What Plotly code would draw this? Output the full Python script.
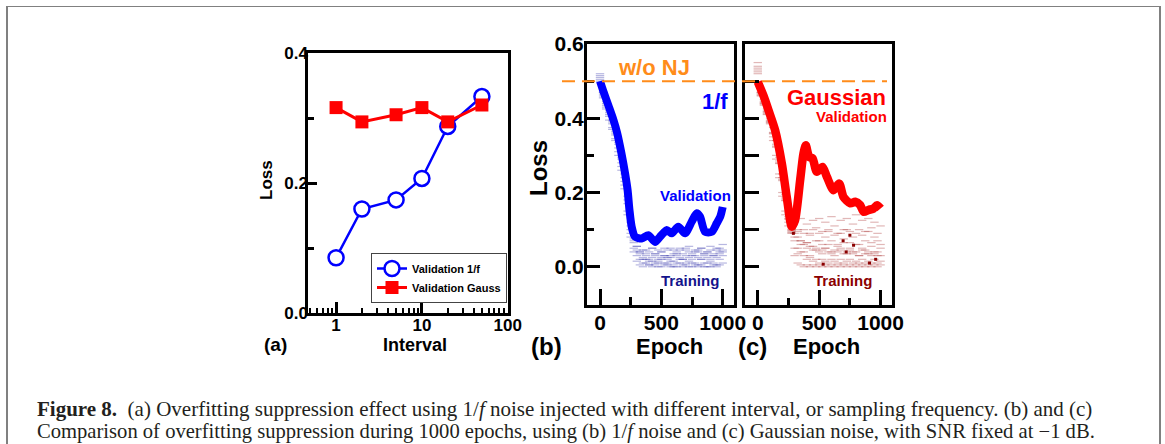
import plotly.graph_objects as go

W, H = 1165, 444

# ---------------- data ----------------
# (a) loss vs injection interval
interval = [1, 2, 5, 10, 20, 50]
val_1f = [0.085, 0.160, 0.174, 0.207, 0.287, 0.333]
val_gauss = [0.316, 0.294, 0.305, 0.316, 0.294, 0.320]

# (b) 1/f noise, validation loss vs epoch
b_epoch = [0, 30, 70, 110, 140, 175, 205, 225, 240, 258, 285, 340, 394, 448, 489,
           520, 544, 584, 638, 693, 747, 788, 815, 856, 910, 951, 980, 1000]
b_val = [0.500, 0.470, 0.433, 0.395, 0.360, 0.305, 0.250, 0.206, 0.153, 0.108, 0.081,
         0.076, 0.085, 0.067, 0.081, 0.092, 0.099, 0.090, 0.108, 0.090, 0.121, 0.144,
         0.135, 0.094, 0.094, 0.117, 0.135, 0.161]

# (c) Gaussian noise, validation loss vs epoch
c_epoch = [0, 50, 87, 141, 196, 236, 277, 304, 345, 372, 391, 418, 446, 481, 527, 563,
           617, 663, 698, 753, 794, 834, 862, 902, 943, 971, 1000]
c_val = [0.498, 0.458, 0.422, 0.368, 0.278, 0.188, 0.108, 0.126, 0.233, 0.305, 0.327,
         0.296, 0.292, 0.256, 0.269, 0.242, 0.206, 0.224, 0.188, 0.171, 0.175, 0.166,
         0.148, 0.153, 0.157, 0.166, 0.157]

# training losses (several scattered readings per epoch)
train_epoch = [0, 25, 50, 75, 100, 125, 150, 175, 200, 225, 250, 275, 300, 325, 350,
               375, 400, 425, 450, 475, 500, 525, 550, 575, 600, 625, 650, 675, 700,
               725, 750, 775, 800, 825, 850, 875, 900, 925, 950, 975, 1000]

b_train_1 = [0.52, 0.46, 0.43, 0.41, 0.385, 0.355, 0.32, 0.28, 0.23, 0.17, 0.09, 0.05,
             0.03, 0.02, 0.01, 0.02, 0.005, 0.015, 0.01, 0.0, 0.02, 0.01, 0.005, 0.015,
             0.0, 0.01, 0.02, 0.005, 0.01, 0.015, 0.0, 0.01, 0.005, 0.02, 0.01, 0.0,
             0.015, 0.01, 0.005, 0.02, 0.03]
b_train_2 = [0.50, 0.47, 0.44, 0.415, 0.39, 0.36, 0.33, 0.29, 0.24, 0.18, 0.11, 0.07,
             0.045, 0.035, 0.025, 0.03, 0.02, 0.025, 0.03, 0.015, 0.025, 0.03, 0.02,
             0.025, 0.015, 0.03, 0.025, 0.02, 0.03, 0.025, 0.02, 0.03, 0.025, 0.02,
             0.03, 0.025, 0.02, 0.03, 0.025, 0.035, 0.04]
b_train_3 = [0.51, 0.465, 0.435, 0.405, 0.375, 0.345, 0.31, 0.27, 0.22, 0.15, 0.10,
             0.065, 0.055, 0.04, 0.045, 0.035, 0.04, 0.05, 0.035, 0.045, 0.04, 0.03,
             0.045, 0.05, 0.035, 0.04, 0.045, 0.035, 0.05, 0.04, 0.035, 0.045, 0.04,
             0.05, 0.035, 0.04, 0.045, 0.035, 0.05, 0.04, 0.045]
b_train_4 = [0.505, 0.455, 0.425, 0.395, 0.37, 0.34, 0.30, 0.26, 0.21, 0.14, 0.08,
             0.04, 0.015, 0.005, 0.0, 0.01, 0.005, 0.0, 0.005, 0.01, 0.0, 0.005, 0.01,
             0.0, 0.005, 0.0, 0.01, 0.0, 0.005, 0.0, 0.01, 0.005, 0.0, 0.005, 0.0, 0.01,
             0.0, 0.005, 0.0, 0.005, 0.01]
b_train_5 = [0.515, 0.47, 0.445, 0.42, 0.395, 0.365, 0.335, 0.295, 0.25, 0.19, 0.12,
             0.075, 0.055, 0.04, 0.02, 0.045, 0.015, 0.05, 0.035, 0.02, 0.04, 0.05,
             0.025, 0.03, 0.045, 0.035, 0.05, 0.02, 0.045, 0.055, 0.03, 0.04, 0.045,
             0.05, 0.035, 0.04, 0.055, 0.03, 0.045, 0.05, 0.06]

c_train_1 = [0.55, 0.47, 0.445, 0.42, 0.395, 0.35, 0.30, 0.25, 0.20, 0.15, 0.12,
             0.10, 0.09, 0.08, 0.07, 0.06, 0.05, 0.055, 0.045, 0.05, 0.04, 0.045, 0.05,
             0.04, 0.035, 0.045, 0.04, 0.05, 0.035, 0.04, 0.045, 0.035, 0.04, 0.03,
             0.045, 0.035, 0.04, 0.03, 0.035, 0.04, 0.03]
c_train_2 = [0.53, 0.465, 0.44, 0.415, 0.39, 0.36, 0.325, 0.28, 0.235, 0.18, 0.13,
             0.095, 0.08, 0.10, 0.07, 0.09, 0.065, 0.085, 0.10, 0.07, 0.09, 0.06, 0.08,
             0.095, 0.07, 0.085, 0.06, 0.09, 0.075, 0.10, 0.065, 0.08, 0.09, 0.06,
             0.085, 0.07, 0.095, 0.065, 0.08, 0.07, 0.06]
c_train_3 = [0.52, 0.46, 0.435, 0.41, 0.385, 0.34, 0.29, 0.24, 0.19, 0.14, 0.11,
             0.09, 0.07, 0.05, 0.04, 0.03, 0.02, 0.025, 0.015, 0.02, 0.01, 0.02, 0.015,
             0.01, 0.02, 0.015, 0.01, 0.02, 0.01, 0.015, 0.02, 0.01, 0.015, 0.01, 0.02,
             0.01, 0.015, 0.01, 0.02, 0.01, 0.015]
c_train_4 = [0.54, 0.47, 0.45, 0.425, 0.40, 0.375, 0.34, 0.295, 0.25, 0.195, 0.145,
             0.105, 0.12, 0.095, 0.13, 0.10, 0.115, 0.09, 0.125, 0.105, 0.13, 0.095,
             0.12, 0.10, 0.135, 0.11, 0.09, 0.125, 0.10, 0.13, 0.095, 0.115, 0.14, 0.10,
             0.125, 0.095, 0.13, 0.105, 0.12, 0.09, 0.11]
c_train_5 = [0.525, 0.462, 0.438, 0.412, 0.388, 0.358, 0.322, 0.278, 0.232, 0.178,
             0.128, 0.092, 0.05, 0.035, 0.06, 0.04, 0.065, 0.03, 0.055, 0.045, 0.07,
             0.035, 0.05, 0.06, 0.04, 0.03, 0.055, 0.045, 0.065, 0.035, 0.05, 0.04,
             0.06, 0.03, 0.05, 0.045, 0.035, 0.055, 0.04, 0.03, 0.05]
c_train_6 = [0.535, 0.468, 0.442, 0.418, 0.392, 0.362, 0.33, 0.285, 0.24, 0.185, 0.135,
             0.098, 0.03, 0.01, 0.005, 0.0, 0.005, 0.0, 0.005, 0.0, 0.005, 0.0, 0.005,
             0.0, 0.005, 0.0, 0.005, 0.0, 0.005, 0.0, 0.005, 0.0, 0.005, 0.0, 0.005,
             0.0, 0.005, 0.0, 0.005, 0.0, 0.005]
c_dark_epoch = [290, 533, 695, 720, 750, 780, 910, 960]
c_dark_loss = [0.09, 0.007, 0.07, 0.04, 0.085, 0.058, 0.01, 0.02]

wo_nj_loss = 0.5

# ---------------- figure ----------------
FONT = "Liberation Sans"
BLUE = "#0000FF"
RED = "#FF0000"
ORANGE = "#FF8C1A"


def px(x):
    return x / W


def py(y):
    return 1 - y / H


fig = go.Figure()

# (a)
fig.add_trace(go.Scatter(
    x=interval, y=val_1f, mode="lines+markers", name="Validation 1/f",
    line=dict(color=BLUE, width=2.5),
    marker=dict(symbol="circle", size=15, color="white", line=dict(color=BLUE, width=2.5)),
    xaxis="x", yaxis="y"))
fig.add_trace(go.Scatter(
    x=interval, y=val_gauss, mode="lines+markers", name="Validation Gauss",
    line=dict(color=RED, width=3),
    marker=dict(symbol="square", size=13, color=RED),
    xaxis="x", yaxis="y"))

# (b) training
for tr in [b_train_1, b_train_2, b_train_3, b_train_4, b_train_5]:
    fig.add_trace(go.Scatter(
        x=train_epoch, y=tr, mode="markers", showlegend=False,
        marker=dict(symbol="line-ew", size=6,
                    line=dict(width=1.2, color="rgba(50,50,170,0.35)")),
        xaxis="x2", yaxis="y2"))
fig.add_trace(go.Scatter(
    x=b_epoch, y=b_val, mode="lines", showlegend=False,
    line=dict(color=BLUE, width=8, shape="spline", smoothing=0.7),
    xaxis="x2", yaxis="y2"))

# (c) training
for tr in [c_train_1, c_train_2, c_train_3, c_train_4, c_train_5, c_train_6]:
    fig.add_trace(go.Scatter(
        x=train_epoch, y=tr, mode="markers", showlegend=False,
        marker=dict(symbol="line-ew", size=6,
                    line=dict(width=1.2, color="rgba(170,50,50,0.35)")),
        xaxis="x3", yaxis="y3"))
fig.add_trace(go.Scatter(
    x=c_dark_epoch, y=c_dark_loss, mode="markers", showlegend=False,
    marker=dict(symbol="square", size=3, color="#8B0000"),
    xaxis="x3", yaxis="y3"))
fig.add_trace(go.Scatter(
    x=c_epoch, y=c_val, mode="lines", showlegend=False,
    line=dict(color=RED, width=8.5, shape="spline", smoothing=0.7),
    xaxis="x3", yaxis="y3"))

axis_common = dict(showline=True, linecolor="black", mirror=True, showgrid=False,
                   zeroline=False, ticks="inside", tickcolor="black", automargin=False)

# domains (pixel boxes)
a_box = (308, 508, 53, 313)
b_box = (587, 734, 44, 305)
c_box = (745, 892, 44, 305)

fig.update_layout(
    width=W, height=H, autosize=False,
    margin=dict(l=0, r=0, t=0, b=0, pad=0, autoexpand=False),
    paper_bgcolor="white", plot_bgcolor="white",
    xaxis=dict(**axis_common, type="log", domain=[px(a_box[0]), px(a_box[1])],
               range=[-0.327, 2.003], linewidth=2.5, tickwidth=2.5, ticklen=11,
               tickmode="array", tickvals=[1, 10, 100], ticktext=["1", "10", "100"],
               tickfont=dict(family=FONT, size=17, color="black", weight="bold"),
               ticklabelstandoff=-5,
               minor=dict(ticks="inside", ticklen=5, tickwidth=2, tickcolor="black",
                          tickmode="array",
                          tickvals=[0.5, 0.6, 0.7, 0.8, 0.9, 2, 3, 4, 5, 6, 7, 8, 9,
                                    20, 30, 40, 50, 60, 70, 80, 90]),
               anchor="y"),
    yaxis=dict(**axis_common, domain=[py(a_box[3]), py(a_box[2])], range=[0, 0.4],
               linewidth=2.5, tickwidth=2.5, ticklen=9,
               tickmode="array", tickvals=[0, 0.2, 0.4], ticktext=["0.0", "0.2", "0.4"],
               tickfont=dict(family=FONT, size=17, color="black", weight="bold"),
               ticklabelstandoff=-6,
               minor=dict(ticks="inside", ticklen=6, tickwidth=2.5, tickcolor="black",
                          tickmode="array", tickvals=[0.1, 0.3]),
               anchor="x"),
    xaxis2=dict(**axis_common, domain=[px(b_box[0]), px(b_box[1])], range=[-106, 1092],
                linewidth=3, tickwidth=3, ticklen=16,
                tickmode="array", tickvals=[0, 500, 1000], ticktext=["0", "500", "1000"],
                tickfont=dict(family=FONT, size=21, color="black", weight="bold"),
                ticklabelstandoff=-3,
                minor=dict(ticks="inside", ticklen=8, tickwidth=3, tickcolor="black",
                           tickmode="array", tickvals=[250, 750]),
                anchor="y2"),
    yaxis2=dict(**axis_common, domain=[py(b_box[3]), py(b_box[2])], range=[-0.103, 0.6],
                linewidth=3, tickwidth=3, ticklen=13,
                tickmode="array", tickvals=[0, 0.2, 0.4, 0.6],
                ticktext=["0.0", "0.2", "0.4", "0.6"],
                tickfont=dict(family=FONT, size=21, color="black", weight="bold"),
                ticklabelstandoff=-4,
                minor=dict(ticks="inside", ticklen=7, tickwidth=3, tickcolor="black",
                           tickmode="array", tickvals=[0.1, 0.3, 0.5]),
                anchor="x2"),
    xaxis3=dict(**axis_common, domain=[px(c_box[0]), px(c_box[1])], range=[-104, 1093],
                linewidth=3, tickwidth=3, ticklen=15,
                tickmode="array", tickvals=[0, 500, 1000], ticktext=["0", "500", "1000"],
                tickfont=dict(family=FONT, size=21, color="black", weight="bold"),
                ticklabelstandoff=-3,
                minor=dict(ticks="inside", ticklen=7, tickwidth=3, tickcolor="black",
                           tickmode="array", tickvals=[250, 750]),
                anchor="y3"),
    yaxis3=dict(**axis_common, domain=[py(c_box[3]), py(c_box[2])], range=[-0.103, 0.6],
                linewidth=3, tickwidth=3, ticklen=14, showticklabels=False,
                tickmode="array", tickvals=[0, 0.1, 0.2, 0.3, 0.4, 0.5, 0.6],
                anchor="x3"),
    legend=dict(x=px(371), y=py(253), xanchor="left", yanchor="top",
                bordercolor="#444", borderwidth=1, bgcolor="white",
                font=dict(family=FONT, size=11, color="black", weight="bold"),
                tracegroupgap=0, itemwidth=30),
    showlegend=True,
)

# reference line: without noise injection
fig.add_shape(type="line", xref="paper", yref="y2", x0=px(562), x1=px(887),
              y0=wo_nj_loss, y1=wo_nj_loss,
              line=dict(color=ORANGE, width=2, dash="13px,7px"))

# outer frame
fig.add_shape(type="line", xref="paper", yref="paper", x0=px(6), x1=px(1161),
              y0=py(6.5), y1=py(6.5), line=dict(color="#808080", width=1.2))
fig.add_shape(type="line", xref="paper", yref="paper", x0=px(7), x1=px(7),
              y0=py(6), y1=py(450), line=dict(color="#808080", width=2))
fig.add_shape(type="line", xref="paper", yref="paper", x0=px(1160), x1=px(1160),
              y0=py(6), y1=py(450), line=dict(color="#808080", width=2))


def ann(text, x, y, size, color="black", bold=True, angle=0, xanchor="center",
        family=FONT):
    fig.add_annotation(text=text, x=px(x), y=py(y), xref="paper", yref="paper",
                       showarrow=False, textangle=angle, xanchor=xanchor,
                       yanchor="middle",
                       font=dict(family=family, size=size, color=color,
                                 weight="bold" if bold else "normal"))


# panel (a) labels
ann("(a)", 275, 344, 19)
ann("Interval", 415, 345, 18)
ann("Loss", 266, 180, 17, angle=-90)
# panel (b) labels
ann("(b)", 546, 346, 24)
ann("Epoch", 669, 346, 22)
ann("Loss", 538, 168, 24, angle=-90)
ann("w/o NJ", 654, 67, 22, color=ORANGE)
ann("1/f", 715, 101, 22, color=BLUE)
ann("Validation", 695, 196, 15, color=BLUE)
ann("Training", 690, 280, 15, color="#14148C")
# panel (c) labels
ann("(c)", 752, 346, 24)
ann("Epoch", 826, 346, 22)
ann("Gaussian", 837, 98, 22, color=RED)
ann("Validation", 851, 117, 15, color=RED)
ann("Training", 843, 280, 15, color="#8B0000")

# caption
CAP = "Liberation Serif"
ann("<b>Figure 8.</b>\u2002(a) Overfitting suppression effect using 1/<i>f</i> noise "
    "injected with different interval, or sampling frequency. (b) and (c)",
    35, 409, 21.0, color="#231F20", bold=False, xanchor="left", family=CAP)
ann("Comparison of overfitting suppression during 1000 epochs, using (b) 1/<i>f</i> "
    "noise and (c) Gaussian noise, with SNR fixed at \u22121 dB.",
    35, 431, 20.6, color="#231F20", bold=False, xanchor="left", family=CAP)

fig.write_html("out.html", post_script="document.body.style.margin='0';")
